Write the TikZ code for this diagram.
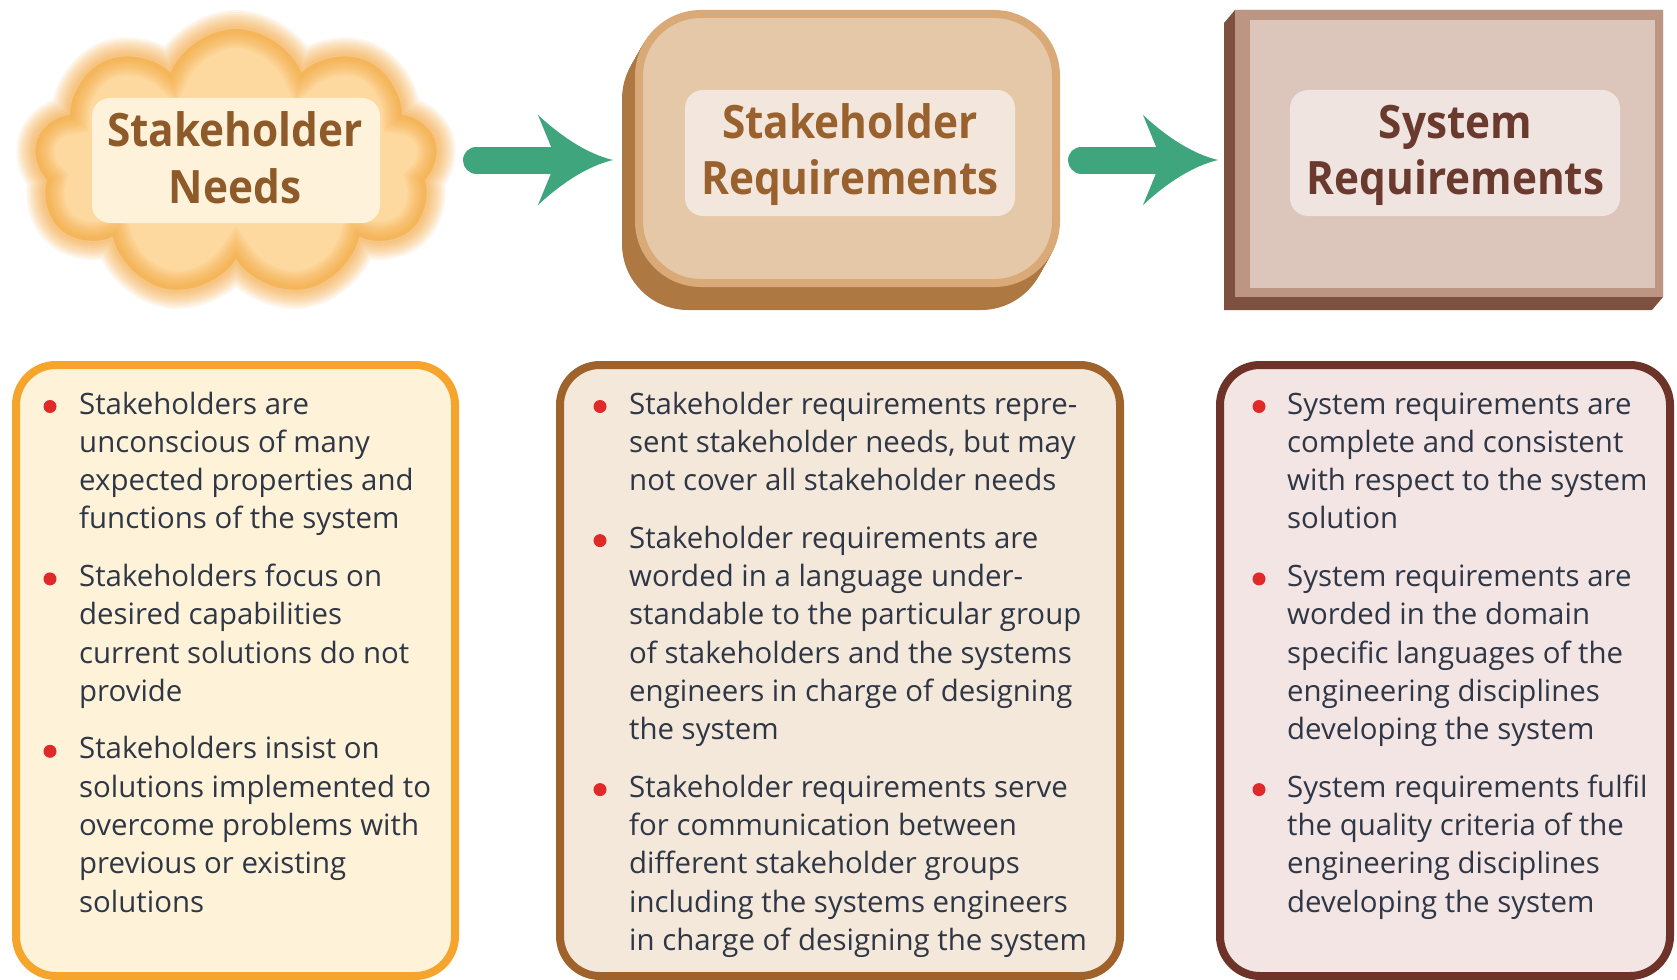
\documentclass[tikz,border=0pt]{standalone}
\usepackage{fontspec}
\setmainfont{Open Sans}
\newfontfamily\headfont[FakeStretch=0.92]{Open Sans}
\usetikzlibrary{shapes.symbols,calc}

\definecolor{cloudfill}{HTML}{FDD9A0}
\definecolor{glow}{HTML}{F5A02C}
\definecolor{needstext}{HTML}{8E5A2A}
\definecolor{needslbl}{HTML}{FEF3DA}
\definecolor{srfill}{HTML}{E4C8A7}
\definecolor{srborder}{HTML}{D9AA78}
\definecolor{srdark}{HTML}{AE7843}
\definecolor{srtext}{HTML}{99612D}
\definecolor{srlbl}{HTML}{F2E6DD}
\definecolor{sysdark}{HTML}{7E5040}
\definecolor{sysframe}{HTML}{BC9583}
\definecolor{sysfacec}{HTML}{DCC6BC}
\definecolor{syslbl}{HTML}{EFE4E0}
\definecolor{systext}{HTML}{6B3A2F}
\definecolor{arrowgreen}{HTML}{3EA57C}
\definecolor{boxAdraw}{HTML}{F5A52B}
\definecolor{boxAfill}{HTML}{FEF3D8}
\definecolor{boxBdraw}{HTML}{A0622B}
\definecolor{boxBfill}{HTML}{F3E8DA}
\definecolor{boxCdraw}{HTML}{6D3329}
\definecolor{boxCfill}{HTML}{F2E5E3}
\definecolor{bodytext}{HTML}{2F3646}
\definecolor{bulletred}{HTML}{E02A2A}

\newcommand\tline[1]{\hbox{#1}}
\newcommand\tlines[1]{\vtop{#1}}
\newcommand\headlines[2]{\vtop{\hbox to 0pt{\hss#1\hss}\hbox to 0pt{\hss#2\hss}}}

\tikzset{
  cloudbody/.style={cloud, cloud puffs=9, cloud puff arc=135, cloud ignores aspect,
    minimum width=404, minimum height=268, inner sep=0},
  lblbox/.style={rectangle, rounded corners=18, inner sep=0, draw=none},
  headtxt/.style={anchor=base, inner sep=0, font=\headfont\bfseries\fontsize{46}{56.5}\selectfont},
  srbox/.style={rectangle, rounded corners=62, minimum width=417, minimum height=269, inner sep=0, line width=8},
  panel/.style={rectangle, rounded corners=40, line width=8, inner sep=0},
  itemtxt/.style={anchor=base west, inner sep=0, text=bodytext, font=\fontsize{29.4}{38.3}\selectfont},
  bul/.style={circle, fill=bulletred, minimum size=13, inner sep=0},
  shaft/.style={draw=arrowgreen, line width=27, line cap=round},
  headfill/.style={fill=arrowgreen}
}

\begin{document}
\begin{tikzpicture}[x=1pt,y=-1pt]
\useasboundingbox (0,0) rectangle (1677,979);
\fill[white] (0,0) rectangle (1677,979);

% ---------- Stakeholder Needs cloud ----------
\node[cloudbody, fill=cloudfill] (needs) at (236,163) {};
\foreach \w in {38,34,30,26,22,18,14,10,6}{
  \node[cloudbody, draw=glow, line width=\w, draw opacity=0.09] (needsglow\w) at (236,163) {};
}
\node[lblbox, fill=needslbl, minimum width=288, minimum height=125] (needslbl) at (236,160.5) {};
\node[headtxt, text=needstext] (needshead) at (235,146.7) {\headlines{Stakeholder}{Needs}};

% ---------- Stakeholder Requirements box ----------
\foreach \k in {1,...,14}{
  \node[srbox, fill=srdark, draw=srdark] (srx\k) at ({847.5-13*\k/14},{148.5+23*\k/14}) {};
}
\node[srbox, fill=srfill, draw=srborder] (sr) at (847.5,148.5) {};
\node[lblbox, fill=srlbl, minimum width=330, minimum height=126] (srlbl) at (850,153) {};
\node[headtxt, text=srtext] (srhead) at (850,138.3) {\headlines{Stakeholder}{Requirements}};

% ---------- System Requirements box ----------
\fill[sysdark] (1235,10) -- (1224,23) -- (1224,310) -- (1652,310) -- (1663,297) -- (1663,10) -- cycle;
\node[rectangle, fill=sysframe, minimum width=428, minimum height=287, inner sep=0] (sysfront) at (1449,153.5) {};
\node[rectangle, fill=sysfacec, minimum width=405, minimum height=268, inner sep=0] (sysface) at (1452.5,154) {};
\node[lblbox, fill=syslbl, minimum width=330, minimum height=126] (syslbl) at (1455,153) {};
\node[headtxt, text=systext] (syshead) at (1455.5,138.3) {\headlines{System}{Requirements}};

% ---------- arrows ----------
\coordinate (a1s) at (476.5,160);
\coordinate (a1t) at (613,160);
\coordinate (a2s) at (1081.5,160);
\coordinate (a2t) at (1218,160);
\foreach \s/\t in {a1s/a1t,a2s/a2t}{
  \draw[shaft] (\s) -- ($(\t)+(-62,0)$);
  \fill[headfill] ($(\t)+(-75,-45)$) -- ($(\t)+(-61,-11)$) -- ($(\t)+(-61,11)$) -- ($(\t)+(-75,45)$)
    .. controls ($(\t)+(-50,22)$) and ($(\t)+(-25,6)$) .. (\t)
    .. controls ($(\t)+(-25,-6)$) and ($(\t)+(-50,-22)$) .. cycle;
}

% ---------- bottom panels ----------
\node[panel, draw=boxAdraw, fill=boxAfill, minimum width=439, minimum height=611] (pA) at (235.5,670.5) {};
\node[panel, draw=boxBdraw, fill=boxBfill, minimum width=560, minimum height=611] (pB) at (840,670.5) {};
\node[panel, draw=boxCdraw, fill=boxCfill, minimum width=450, minimum height=611] (pC) at (1445,670.5) {};

% panel A
\node[bul] (bA1) at (50,406.5) {};
\node[itemtxt] (tA1) at (79,414) {\tlines{\tline{Stakeholders are}\tline{unconscious of many}\tline{expected properties and}\tline{functions of the system}}};
\node[bul] (bA2) at (50,578.9) {};
\node[itemtxt] (tA2) at (79,586.4) {\tlines{\tline{Stakeholders focus on}\tline{desired capabilities}\tline{current solutions do not}\tline{provide}}};
\node[bul] (bA3) at (50,751.3) {};
\node[itemtxt] (tA3) at (79,758.8) {\tlines{\tline{Stakeholders insist on}\tline{solutions implemented to}\tline{overcome problems with}\tline{previous or existing}\tline{solutions}}};

% panel B
\node[bul] (bB1) at (600,406.5) {};
\node[itemtxt] (tB1) at (629,414) {\tlines{\tline{Stakeholder requirements repre-}\tline{sent stakeholder needs, but may}\tline{not cover all stakeholder needs}}};
\node[bul] (bB2) at (600,540.6) {};
\node[itemtxt] (tB2) at (629,548.1) {\tlines{\tline{Stakeholder requirements are}\tline{worded in a language under-}\tline{standable to the particular group}\tline{of stakeholders and the systems}\tline{engineers in charge of designing}\tline{the system}}};
\node[bul] (bB3) at (600,789.6) {};
\node[itemtxt] (tB3) at (629,797.1) {\tlines{\tline{Stakeholder requirements serve}\tline{for communication between}\tline{different stakeholder groups}\tline{including the systems engineers}\tline{in charge of designing the system}}};

% panel C
\node[bul] (bC1) at (1259,406.5) {};
\node[itemtxt] (tC1) at (1287,414) {\tlines{\tline{System requirements are}\tline{complete and consistent}\tline{with respect to the system}\tline{solution}}};
\node[bul] (bC2) at (1259,578.9) {};
\node[itemtxt] (tC2) at (1287,586.4) {\tlines{\tline{System requirements are}\tline{worded in the domain}\tline{specific languages of the}\tline{engineering disciplines}\tline{developing the system}}};
\node[bul] (bC3) at (1259,789.6) {};
\node[itemtxt] (tC3) at (1287,797.1) {\tlines{\tline{System requirements fulfil}\tline{the quality criteria of the}\tline{engineering disciplines}\tline{developing the system}}};
\end{tikzpicture}
\end{document}
